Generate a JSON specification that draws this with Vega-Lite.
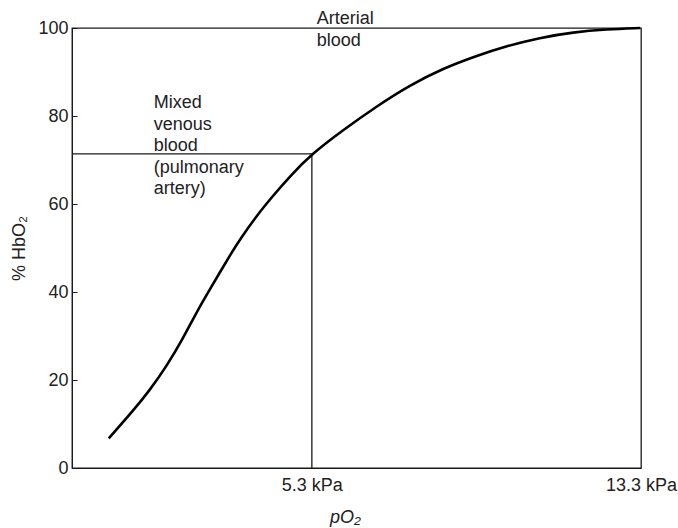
{
  "$schema": "https://vega.github.io/schema/vega-lite/v6.json",
  "width": 569,
  "height": 440,
  "autosize": "none",
  "padding": {"left": 72, "top": 28, "right": 37, "bottom": 60},
  "background": "white",
  "config": {
    "view": {"stroke": "#1a1a1a", "strokeWidth": 1.3},
    "font": "Liberation Sans",
    "axis": {"labelFont": "Liberation Sans", "titleFont": "Liberation Sans", "labelColor": "#222", "titleColor": "#222", "domainColor": "#1a1a1a", "tickColor": "#1a1a1a", "grid": false, "labelFontSize": 18, "titleFontSize": 18, "titleFontWeight": "normal"}
  },
  "datasets": {
    "curve": [
      {"kPa": 0.364, "pct": 6.75},
      {"kPa": 0.955, "pct": 13.0},
      {"kPa": 1.361, "pct": 17.7},
      {"kPa": 1.767, "pct": 23.1},
      {"kPa": 2.171, "pct": 29.5},
      {"kPa": 2.496, "pct": 35.4},
      {"kPa": 2.82, "pct": 40.6},
      {"kPa": 3.386, "pct": 49.55},
      {"kPa": 3.549, "pct": 51.9},
      {"kPa": 3.955, "pct": 57.3},
      {"kPa": 4.359, "pct": 61.9},
      {"kPa": 4.765, "pct": 66.3},
      {"kPa": 5.3, "pct": 71.4},
      {"kPa": 6.061, "pct": 76.82},
      {"kPa": 6.873, "pct": 82.2},
      {"kPa": 7.683, "pct": 87.0},
      {"kPa": 8.493, "pct": 90.84},
      {"kPa": 9.305, "pct": 93.7},
      {"kPa": 10.03, "pct": 95.9},
      {"kPa": 10.84, "pct": 97.8},
      {"kPa": 11.65, "pct": 99.05},
      {"kPa": 12.47, "pct": 99.7},
      {"kPa": 13.28, "pct": 100}
    ],
    "refs": [
      {"x1": -0.53, "x2": 5.3, "y1": 71.4, "y2": 71.4},
      {"x1": 5.3, "x2": 5.3, "y1": 0, "y2": 71.4}
    ],
    "notes": [
      {"kPa": 5.42, "pct": 100.9, "label": ["Arterial", "blood"]},
      {"kPa": 1.458, "pct": 81.8, "label": ["Mixed", "venous", "blood", "(pulmonary", "artery)"]}
    ]
  },
  "layer": [
    {
      "data": {"name": "refs"},
      "mark": {"type": "rule", "color": "#1a1a1a", "strokeWidth": 1.3},
      "encoding": {
        "x": {"field": "x1", "type": "quantitative", "scale": {"domain": [-0.53, 13.3], "nice": false, "zero": false},
          "axis": {"values": [5.3, 13.3], "labelExpr": "format(datum.value, '.1f') + ' kPa'", "ticks": false, "labelPadding": 8, "labelFlush": false, "labelOverlap": false, "labelBound": false, "title": "pO₂", "titleFontStyle": "italic", "titleX": 273, "titleY": 54, "titleBaseline": "alphabetic"}},
        "x2": {"field": "x2"},
        "y": {"field": "y1", "type": "quantitative", "scale": {"domain": [0, 100], "nice": false},
          "axis": {"values": [0, 20, 40, 60, 80, 100], "tickSize": -5, "labelPadding": 9, "title": "% HbO₂", "titleX": -44, "titleY": 220, "titleAngle": -90, "titleBaseline": "bottom", "titleAlign": "center"}},
        "y2": {"field": "y2"}
      }
    },
    {
      "data": {"name": "curve"},
      "mark": {"type": "line", "color": "#000", "strokeWidth": 2.6, "interpolate": "basis"},
      "encoding": {
        "x": {"field": "kPa", "type": "quantitative"},
        "y": {"field": "pct", "type": "quantitative"}
      }
    },
    {
      "data": {"name": "notes"},
      "mark": {"type": "text", "align": "left", "baseline": "alphabetic", "fontSize": 18, "lineHeight": 21.6, "color": "#222", "font": "Liberation Sans", "clip": false},
      "encoding": {
        "x": {"field": "kPa", "type": "quantitative"},
        "y": {"field": "pct", "type": "quantitative"},
        "text": {"field": "label"}
      }
    }
  ]
}
